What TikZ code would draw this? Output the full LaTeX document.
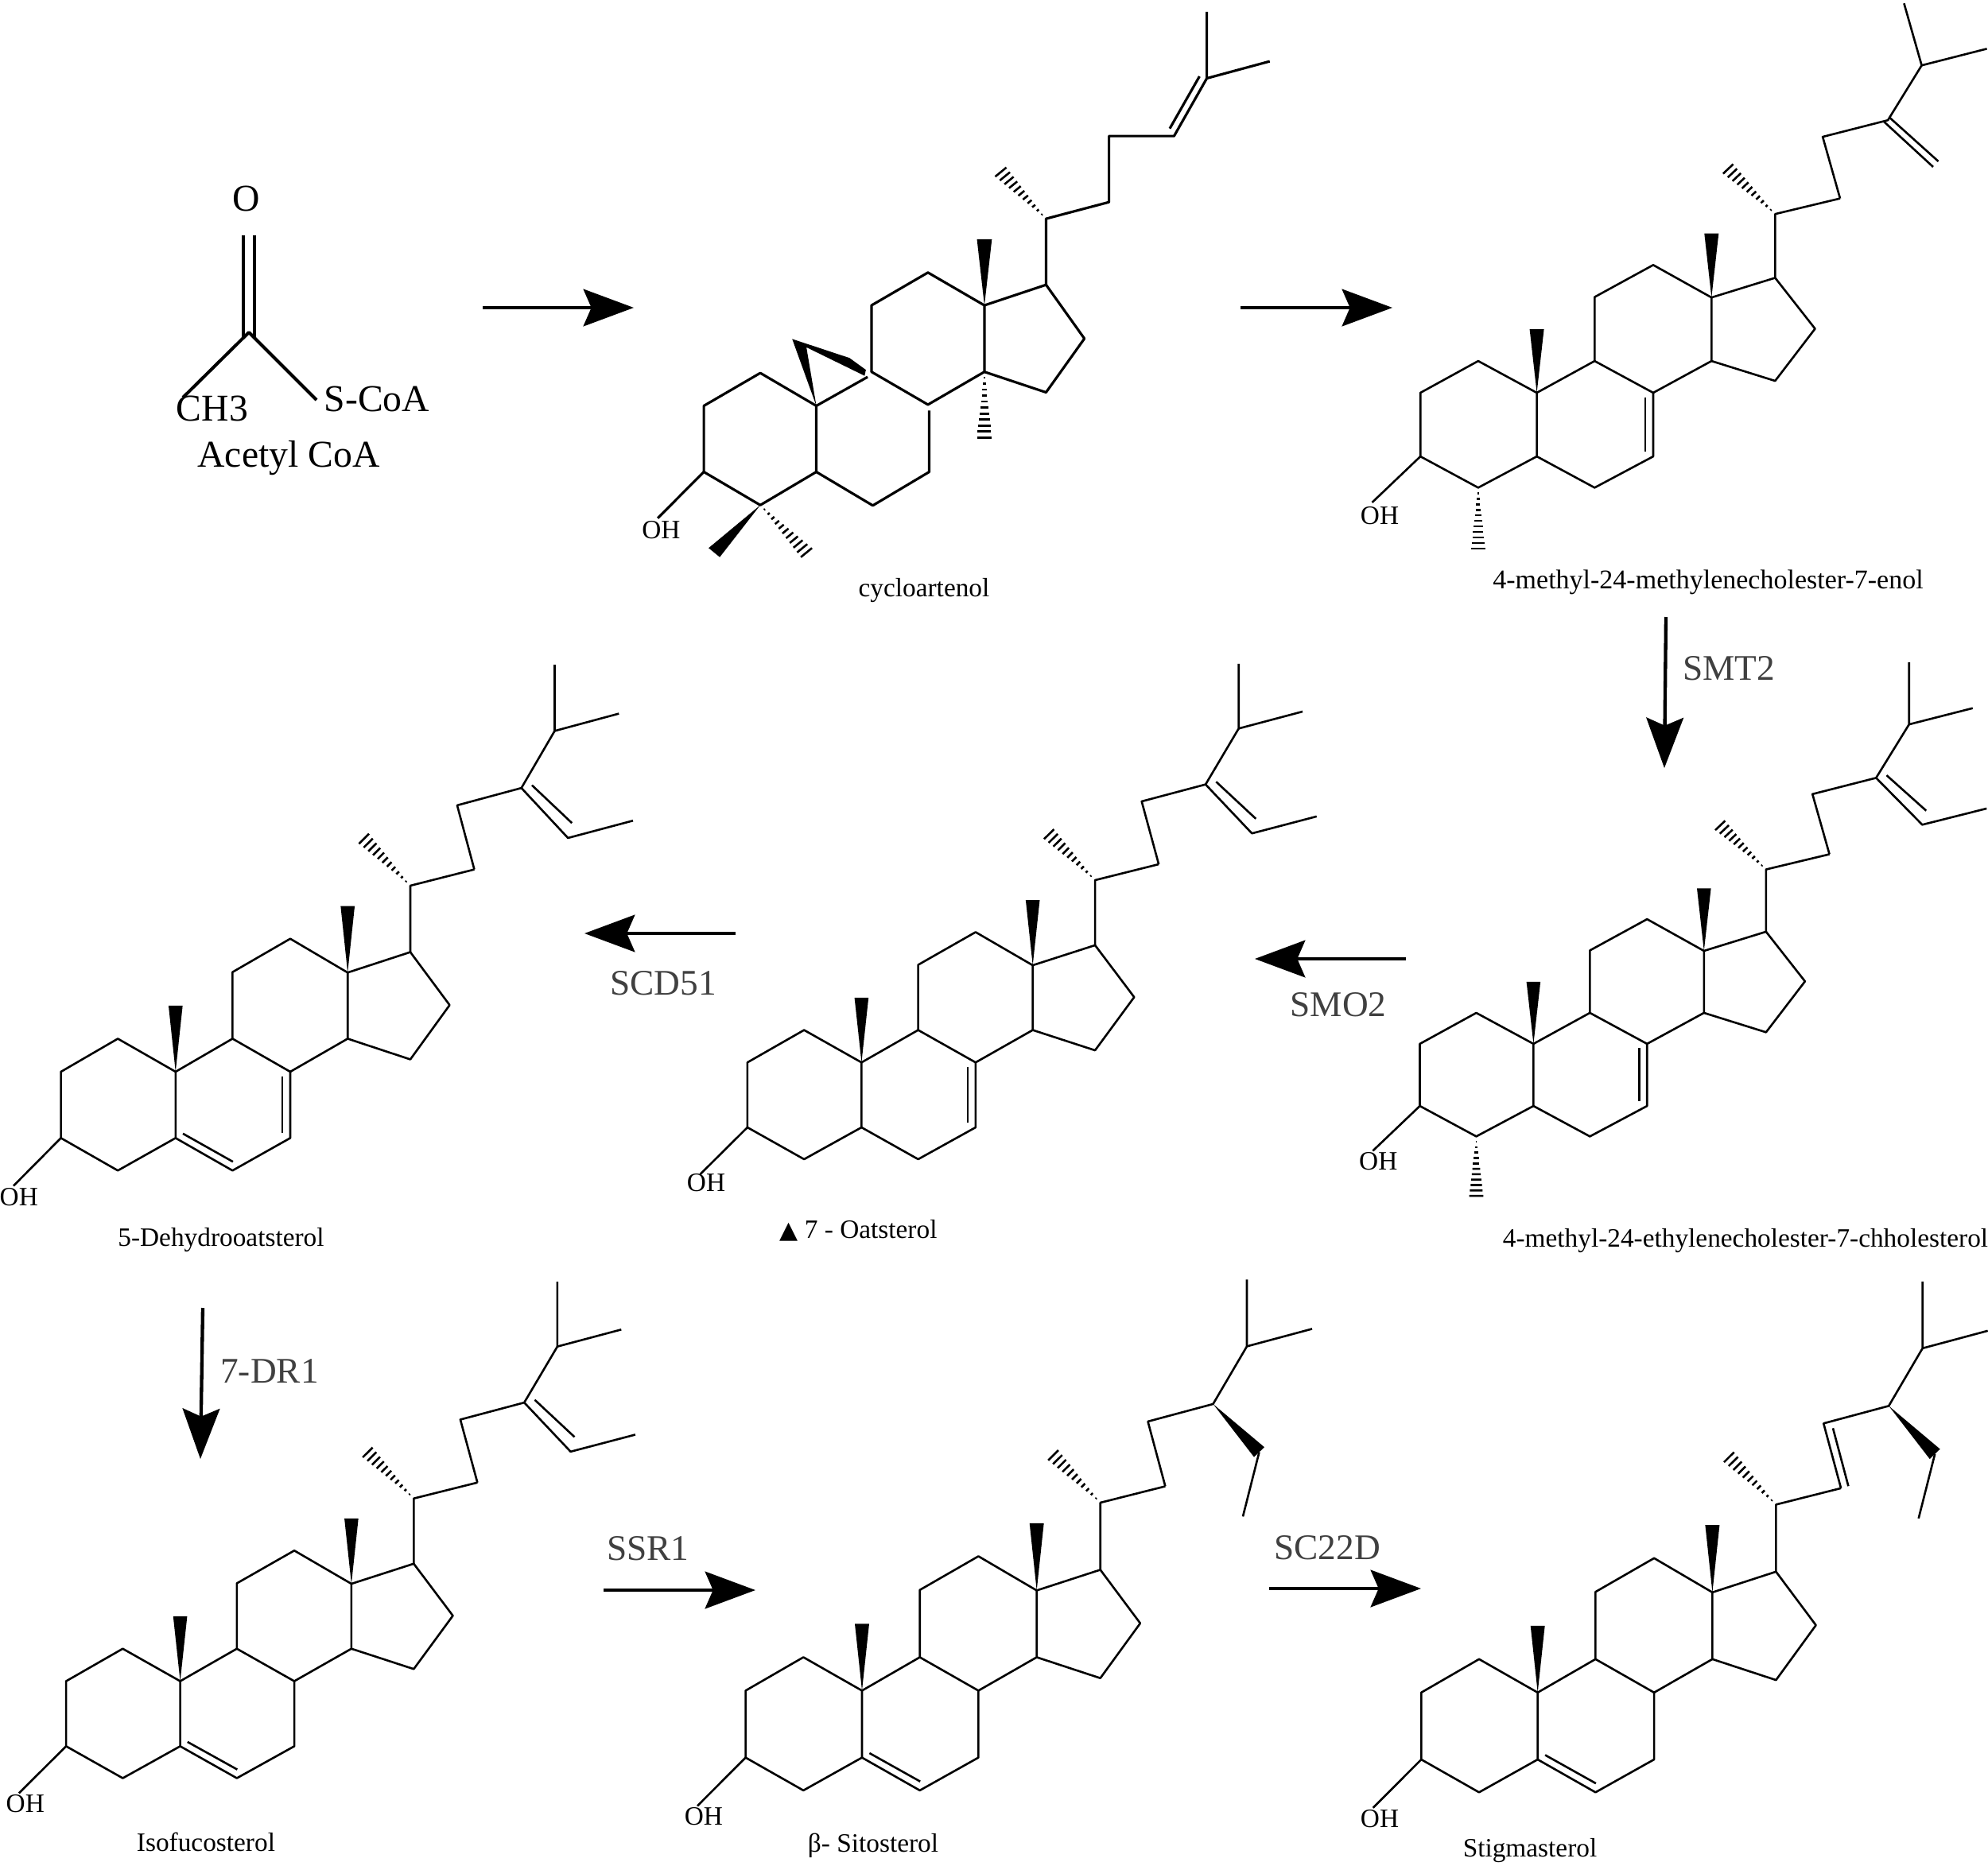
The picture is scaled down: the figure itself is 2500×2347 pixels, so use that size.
\documentclass[tikz,border=0pt]{standalone}
\usepackage{fontspec}
\setmainfont{Liberation Serif}
\newfontfamily\symfont{DejaVu Sans}
\usepackage{tikz}
\usetikzlibrary{arrows.meta,calc}
\definecolor{ink}{HTML}{000000}
\definecolor{enz}{HTML}{404040}
\tikzset{
  bond/.style={draw=ink,line width=.78pt,line join=round},
  bondb/.style={draw=ink,line width=.95pt,line join=round},
  hashln/.style={draw=ink,line width=.78pt},
  arr/.style={-{Stealth[length=19pt,width=14pt,inset=3pt]},line width=1.3pt,draw=ink},
  molname/.style={inner sep=0pt,font=\fontsize{10}{12}\selectfont},
  ohlab/.style={inner sep=0pt,font=\fontsize{10}{12}\selectfont},
  chemlab/.style={inner sep=0pt,font=\fontsize{14.3}{17}\selectfont},
  enzlab/.style={inner sep=0pt,text=enz,font=\fontsize{13.6}{16}\selectfont}
}
\newcommand{\wdg}{2.7}
\newcommand{\wedgebond}[2]{\fill[ink] (#1)--($(#2)!\wdg pt!90:(#1)$)--($(#2)!\wdg pt!-90:(#1)$)--cycle;}
\newcommand{\hashbond}[2]{\foreach \k [evaluate=\k as \f using \k/11] in {1,...,11}
  {\draw[hashln] ($(#1)!\f!(#2)!{\f*\wdg pt}!90:(#1)$)--($(#1)!\f!(#2)!{\f*\wdg pt}!-90:(#1)$);}}
% x, y, xscale, yscale, extra bonds
\newcommand{\sterol}[5]{
 \begin{scope}[shift={(#1,#2)},xscale=#3,yscale=#4]
  \coordinate (c10) at (0,0); \coordinate (c1) at (-73.7,-42); \coordinate (c2) at (-146.4,0);
  \coordinate (c3) at (-146.4,84.2); \coordinate (c4) at (-73.7,125.5); \coordinate (c5) at (0,84.2);
  \coordinate (c6) at (72.7,125.5); \coordinate (c7) at (146.4,84.2); \coordinate (c8) at (146.4,0);
  \coordinate (c9) at (72.7,-42); \coordinate (c11) at (72.7,-126.6); \coordinate (c12) at (146.4,-169);
  \coordinate (c13) at (219.7,-126); \coordinate (c14) at (219.7,-42); \coordinate (c15) at (299.7,-15.7);
  \coordinate (c16) at (349.9,-84.7); \coordinate (c17) at (299.7,-152); \coordinate (c18) at (219.7,-210.6);
  \coordinate (c19) at (0,-84); \coordinate (c20) at (299.7,-236.4); \coordinate (c21) at (240.6,-296);
  \coordinate (c22) at (381.4,-257); \coordinate (c23) at (359.5,-338.5); \coordinate (c24) at (441.5,-360.5);
  \coordinate (c25) at (484,-433); \coordinate (c26) at (484,-517); \coordinate (c27) at (566,-455);
  \coordinate (c28) at (501,-297); \coordinate (c29) at (584,-319); \coordinate (coh) at (-207,145);
  \draw[bond] (c10)--(c1)--(c2)--(c3)--(c4)--(c5)--cycle;
  \draw[bond] (c5)--(c6)--(c7)--(c8)--(c9)--(c10);
  \draw[bond] (c9)--(c11)--(c12)--(c13)--(c14)--(c8);
  \draw[bond] (c14)--(c15)--(c16)--(c17)--(c13);
  \draw[bond] (c17)--(c20)--(c22); \draw[bond] (c3)--(coh);
  \wedgebond{c10}{c19} \wedgebond{c13}{c18} \hashbond{c20}{c21}
  #5
 \end{scope}}
\newcommand{\dbfive}{\draw[bond] (9.4,78.6)--(73.2,114.3);}
\newcommand{\dbseven}{\draw[bond] (136.4,6)--(136.4,78);}
\newcommand{\chaintop}{\draw[bond] (c22)--(c23)--(c24)--(c25)--(c26); \draw[bond] (c25)--(c27);}
\newcommand{\ethylidene}{\draw[bond] (c24)--(c28)--(c29); \draw[bond] (455,-364)--(506,-316);}
\newcommand{\ethylwedge}{\wedgebond{c24}{499.5,-300} \draw[bond] (499.5,-300)--(479,-219);}
\newcommand{\methylfour}{\hashbond{c4}{-73.7,206}}

\begin{document}
\begin{tikzpicture}[x=.3pt,y=-.3pt]
 \useasboundingbox (0,0) rectangle (2500,2347);
 % acetyl CoA
 \node[chemlab] (oxy) at (310,250) {O};
 \node[chemlab] (methyl) at (267,514) {CH3};
 \node[chemlab] (scoa) at (474,502) {S-CoA};
 \node[chemlab] (acetyl) at (363,576) {Acetyl CoA};
 \coordinate (cco) at (313,418);
 \draw[line width=1.2pt] (305.7,296)--(305.7,424); \draw[line width=1.2pt] (320.3,296)--(320.3,424);
 \draw[line width=1.2pt,line join=round] (230,500)--(cco)--(398,503);
 % cycloartenol
 \begin{scope}[shift={(800,0)},xscale=.542,yscale=.4975]
  \renewcommand{\wdg}{5.2}
  \draw[bondb] (418,1026)--(288,943)--(157,1026)--(157,1193)--(288,1277)--(418,1193)--cycle;
  \draw[bondb] (418,1193)--(549,1278)--(680,1193)--(680,1038);
  \draw[bondb] (418,1026)--(537,953);
  \draw[bondb] (546,772)--(546,940)--(677,1023)--(808,940)--(808,772)--(677,689)--cycle;
  \draw[bondb] (808,772)--(951,720)--(1040,856)--(951,992)--(808,940);
  \draw[bondb] (951,720)--(951,553)--(1097,511)--(1097,344)--(1248,344)--(1324,198)--(1324,30);
  \draw[bondb] (1324,198)--(1470,155); \draw[bondb] (1238,325)--(1307,193);
  \draw[bondb] (157,1193)--(50,1310);
  \fill[ink] (418,1026)--(362,857)--(495,905)--(533,935)--(530,950)--(395,878)--cycle;
  \wedgebond{808,772}{808,605}
  \wedgebond{288,1277}{181,1397}
  \hashbond{808,940}{808,1106}
  \hashbond{288,1277}{395,1397}
  \hashbond{951,553}{846,435}
 \end{scope}
 % 4-methyl-24-methylene
 \sterol{1932.6}{494}{1}{.951}{\dbseven \methylfour
  \draw[bond] (c22)--(c23)--(c24)--(c25)--(461.8,-515); \draw[bond] (c25)--(c27);
  \draw[bond] (443,-364.6)--(505,-306); \draw[bond] (436.7,-358.4)--(498.4,-298.7);}
 % 4-methyl-24-ethylene
 \sterol{1928.4}{1312.9}{.976}{.928}{\dbseven \methylfour \chaintop \ethylidene}
 % oatsterol
 \sterol{1083.4}{1336.3}{.98}{.97}{\dbseven \chaintop \ethylidene}
 % 5-dehydro
 \sterol{220.8}{1348}{.985}{.99}{\dbfive \dbseven \chaintop \ethylidene}
 % isofucosterol
 \sterol{226.6}{2114.5}{.98}{.972}{\dbfive \chaintop \ethylidene}
 % sitosterol
 \sterol{1084}{2126.4}{1}{1}{\dbfive \chaintop \ethylwedge}
 % stigmasterol
 \sterol{1933.7}{2128.8}{1}{1}{\dbfive \chaintop \ethylwedge
  \draw[bond] (371.3,-332.5)--(390.7,-259.6);}
 \node[ohlab] (oh1) at (831.4,667) {OH};
 \node[ohlab] (oh2) at (1735,649) {OH};
 \node[ohlab] (oh3) at (1733.3,1460.5) {OH};
 \node[ohlab] (oh4) at (888,1488) {OH};
 \node[ohlab] (oh5) at (23.8,1506) {OH};
 \node[ohlab] (oh6) at (31.8,2269) {OH};
 \node[ohlab] (oh7) at (885,2285) {OH};
 \node[ohlab] (oh8) at (1735,2287.5) {OH};
 \node[molname] (cyclo) at (1162,743) {cycloartenol};
 \node[molname,font=\fontsize{10.2}{12}\selectfont] (methylene) at (2148,732) {4-methyl-24-methylenecholester-7-enol};
 \node[molname] (ethylene) at (2195,1561) {4-methyl-24-ethylenecholester-7-chholesterol};
 \node[molname] (oat) at (1079.5,1548) {{\symfont\fontsize{9}{12}\selectfont ▲} 7 - Oatsterol};
 \node[molname] (dehydro) at (278,1560) {5-Dehydrooatsterol};
 \node[molname] (isofuco) at (259,2317) {Isofucosterol};
 \node[molname] (sito) at (1098,2321) {β- Sitosterol};
 \node[molname] (stigma) at (1924,2328) {Stigmasterol};
 \node[enzlab] (smt) at (2174,841) {SMT2};
 \node[enzlab] (smo) at (1683,1264) {SMO2};
 \node[enzlab] (scd) at (834,1237) {SCD51};
 \node[enzlab] (dr) at (339,1725) {7-DR1};
 \node[enzlab] (ssr) at (815,1948) {SSR1};
 \node[enzlab] (scd22) at (1669,1947) {SC22D};
 \coordinate (s1) at (607,387); \coordinate (e1) at (797,387);
 \coordinate (s2) at (1560,387); \coordinate (e2) at (1751,387);
 \coordinate (s3) at (2095,776); \coordinate (e3) at (2093,966);
 \coordinate (s4) at (1768,1206); \coordinate (e4) at (1578,1206);
 \coordinate (s5) at (925,1174); \coordinate (e5) at (735,1174);
 \coordinate (s6) at (255,1645); \coordinate (e6) at (252,1835);
 \coordinate (s7) at (759,2000); \coordinate (e7) at (950,2000);
 \coordinate (s8) at (1596,1998); \coordinate (e8) at (1787,1998);
 \foreach \i in {1,...,8}{\draw[arr] (s\i)--(e\i);}
\end{tikzpicture}
\end{document}
